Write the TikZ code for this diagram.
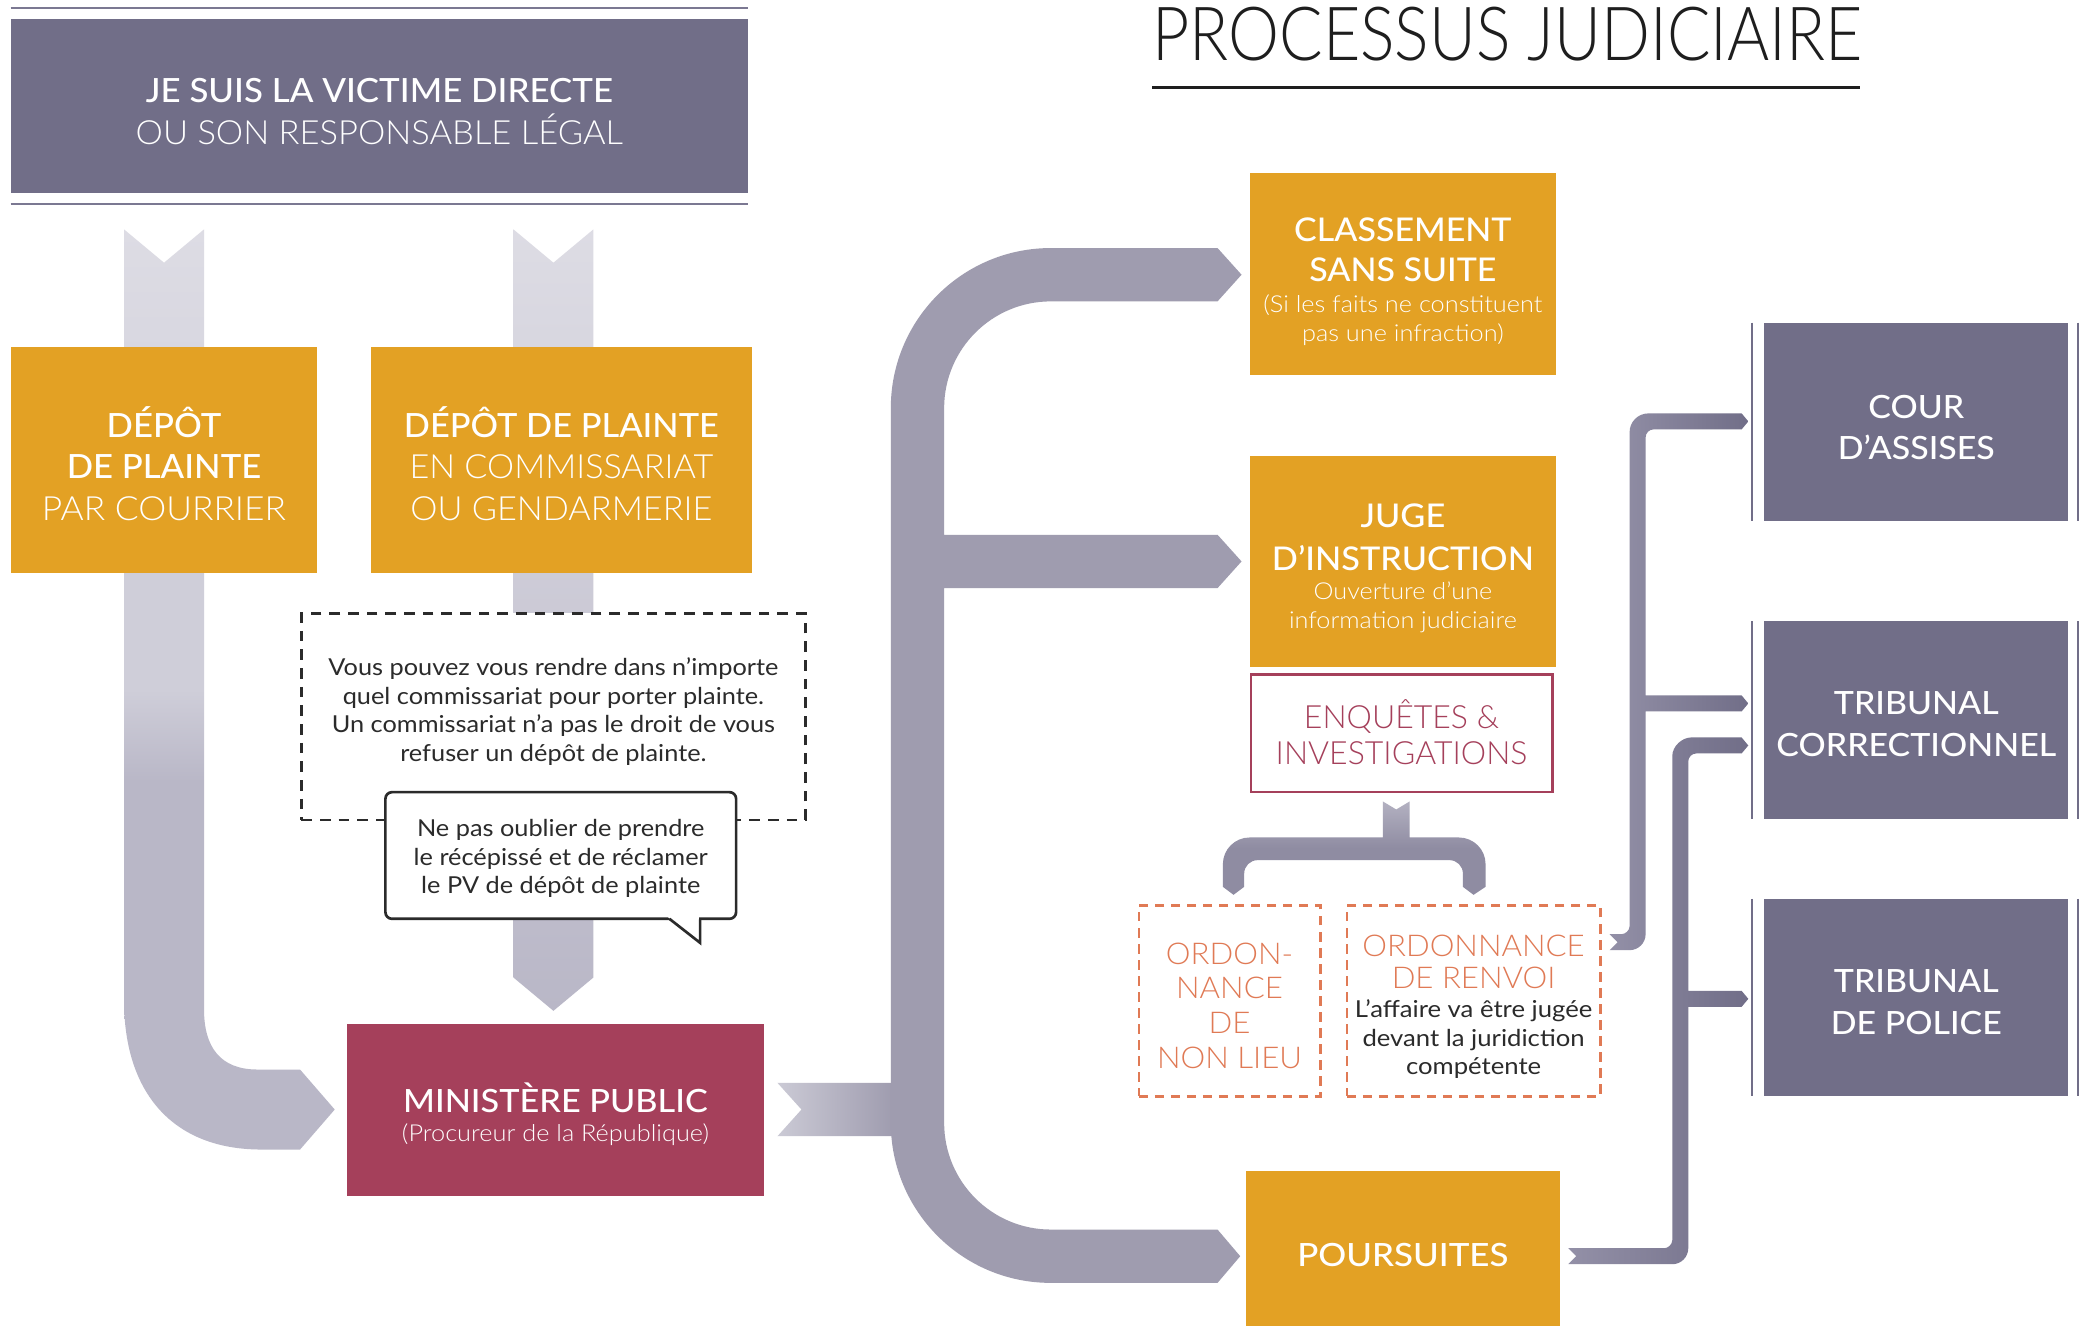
\documentclass[tikz,border=0pt]{standalone}
\usepackage{fontspec}
\usepackage{graphicx}
\IfFontExistsTF{Lato}{\def\basefam{Lato}}{\def\basefam{Liberation Sans}}
\expandafter\setmainfont\expandafter{\basefam}
\expandafter\newfontfamily\expandafter\fReg\expandafter{\basefam}
\IfFontExistsTF{Lato Light}{\newfontfamily\fLight{Lato Light}}{\expandafter\newfontfamily\expandafter\fLight\expandafter{\basefam}}
\IfFontExistsTF{Lato Medium}{\newfontfamily\fMed{Lato Medium}}{\expandafter\newfontfamily\expandafter\fMed\expandafter{\basefam}}
\newcommand\hs[2]{\scalebox{#1}[1]{#2}}
\definecolor{purp}{HTML}{716E88}
\definecolor{purpline}{HTML}{7B7892}
\definecolor{orng}{HTML}{E3A124}
\definecolor{crim}{HTML}{A5405B}
\definecolor{coral}{HTML}{E07A55}
\definecolor{arrowg}{HTML}{9F9CAF}
\definecolor{entryl}{HTML}{CBCAD5}
\definecolor{lgA}{HTML}{DDDCE4}
\definecolor{lgB}{HTML}{CFCED9}
\definecolor{lgC}{HTML}{B9B7C7}
\definecolor{conL}{HTML}{9390A7}
\definecolor{conR}{HTML}{716E88}
\definecolor{brk}{HTML}{8F8CA2}
\definecolor{brklight}{HTML}{B3B1C1}
\definecolor{darktxt}{HTML}{2B2B2B}
\definecolor{titlec}{HTML}{1E1E1E}
\pgfdeclareverticalshading{leftstream}{100bp}{color(0bp)=(lgC); color(45bp)=(lgC); color(50bp)=(lgB); color(56bp)=(lgB); color(75bp)=(lgA); color(100bp)=(lgA)}
\begin{document}
\begin{tikzpicture}[x=1pt,y=-1pt,
  box/.style={rectangle, inner sep=0pt, outer sep=0pt, draw=none},
  txt/.style={anchor=base, inner sep=0pt, outer sep=0pt},
  hd/.style={txt, text=white, font=\fMed\fontsize{25}{30}\selectfont},
  hl/.style={txt, text=white, font=\fLight\fontsize{25}{30}\selectfont},
  rh/.style={txt, text=white, font=\fMed\fontsize{24.5}{30}\selectfont},
  sm/.style={txt, text=white, font=\fLight\fontsize{17.5}{20}\selectfont},
  body/.style={txt, text=darktxt, font=\fReg\fontsize{17.5}{20}\selectfont},
  trib/.style={txt, text=white, font=\fMed\fontsize{24}{28}\selectfont},
  ordo/.style={txt, text=coral, font=\fLight\fontsize{22.5}{28}\selectfont},
  enq/.style={txt, text=crim, font=\fLight\fontsize{24}{28}\selectfont},
  dashbox/.style={draw=coral, line width=2pt, dash pattern=on 7pt off 5pt, fill=white},
  tline/.style={purp, line width=1.5pt}
]
\useasboundingbox (0,0) rectangle (1568,994);
\fill[white] (0,0) rectangle (1568,994);

% ---------- top header ----------
\draw[purpline, line width=1.8pt] (8,6) -- (561,6);
\draw[purpline, line width=1.8pt] (8,153) -- (561,153);
\node[box, fill=purp, minimum width=553pt, minimum height=131pt] (victime) at (284.5,79.5) {};
\node[hd] (hdr1) at (284.5,77) {\hs{1.045}{JE SUIS LA VICTIME DIRECTE}};
\node[hl] (hdr2) at (284.5,108.5) {\hs{1.035}{OU SON RESPONSABLE LÉGAL}};

% ---------- grey streams ----------
\shade[shading=leftstream] (93,172) -- (123,197) -- (153,172) -- (153,757)
  .. controls (153,785) and (165,802) .. (193,802) -- (225,802) -- (251,832) -- (225,862) -- (196,862)
  .. controls (130,862) and (93,820) .. (93,750) -- cycle;
\shade[top color=lgA, bottom color=lgC] (385,172) -- (415,197) -- (445,172) -- (445,733) -- (415,758) -- (385,733) -- cycle;

% ---------- orange deposit boxes ----------
\node[box, fill=orng, minimum width=230pt, minimum height=170pt] (courrier) at (123,345) {};
\node[hd] (d1a) at (123,328) {\hs{1.04}{DÉPÔT}};
\node[hd] (d1b) at (123,359) {\hs{1.04}{DE PLAINTE}};
\node[hl] (d1c) at (123,390) {\hs{1.06}{PAR COURRIER}};
\node[box, fill=orng, minimum width=286pt, minimum height=170pt] (commiss) at (421,345) {};
\node[hd] (d2a) at (421,328) {\hs{1.03}{DÉPÔT DE PLAINTE}};
\node[hl] (d2b) at (421,359) {\hs{1.025}{EN COMMISSARIAT}};
\node[hl] (d2c) at (421,390) {\hs{1.03}{OU GENDARMERIE}};

% ---------- dashed note ----------
\node[box, draw=darktxt, line width=1.9pt, dash pattern=on 8pt off 6pt, fill=white, minimum width=378pt, minimum height=155pt] (note) at (415,537.5) {};
\node[body] (n1) at (415,506.7) {\hs{1.085}{Vous pouvez vous rendre dans n’importe}};
\node[body] (n2) at (415,528) {\hs{1.085}{quel commissariat pour porter plainte.}};
\node[body] (n3) at (415,549.4) {\hs{1.085}{Un commissariat n’a pas le droit de vous}};
\node[body] (n4) at (415,571) {\hs{1.085}{refuser un dépôt de plainte.}};

% ---------- callout ----------
\draw[darktxt, line width=2pt, rounded corners=5pt, fill=white] (289,594) rectangle (552,689);
\fill[white] (501,687.8) -- (524,687.8) -- (524,705) -- cycle;
\draw[darktxt, line width=2pt, line join=miter] (502,689) -- (525,707) -- (525,689.5);
\node[body] (c1) at (420.5,627.4) {\hs{1.085}{Ne pas oublier de prendre}};
\node[body] (c2) at (420.5,648.7) {\hs{1.085}{le récépissé et de réclamer}};
\node[body] (c3) at (420.5,670) {\hs{1.085}{le PV de dépôt de plainte}};

% ---------- ministere public ----------
\node[box, fill=crim, minimum width=313pt, minimum height=129pt] (ministere) at (416.5,832.5) {};
\node[txt, text=white, font=\fMed\fontsize{24}{28}\selectfont] (m1) at (416.5,834) {\hs{1.07}{MINISTÈRE PUBLIC}};
\node[sm] (m2) at (416.5,856) {\hs{1.085}{(Procureur de la République)}};

% ---------- big branching arrow ----------
\shade[left color=entryl, right color=arrowg] (583,812) -- (670,812) -- (670,852) -- (583,852) -- (601,832) -- cycle;
\fill[arrowg] (668,306) .. controls (668,239.7) and (721.7,186) .. (788,186) -- (913,186) -- (931,206) -- (913,226) -- (788,226)
  .. controls (743.8,226) and (708,261.8) .. (708,306) -- (708,401) -- (913,401) -- (931,421) -- (913,441) -- (708,441)
  -- (708,842) .. controls (708,886.2) and (743.8,922) .. (788,922) -- (913,922) -- (930,942) -- (913,962) -- (788,962)
  .. controls (721.7,962) and (668,908.3) .. (668,842) -- cycle;

% ---------- title ----------
\node[txt, text=titlec, font=\fLight\fontsize{56}{60}\selectfont] (title) at (1130.5,45) {\hs{0.862}{PROCESSUS JUDICIAIRE}};
\draw[titlec, line width=2pt] (864,65.5) -- (1395,65.5);

% ---------- right column ----------
\node[box, fill=orng, minimum width=230pt, minimum height=151pt] (classement) at (1052,205.5) {};
\node[rh] (cl1) at (1052,181) {\hs{1.04}{CLASSEMENT}};
\node[rh] (cl2) at (1052,211) {\hs{1.04}{SANS SUITE}};
\node[sm] (cl3) at (1052,234) {\hs{1.085}{(Si les faits ne constituent}};
\node[sm] (cl4) at (1052,256) {\hs{1.085}{pas une infraction)}};

\node[box, fill=orng, minimum width=230pt, minimum height=158pt] (juge) at (1052,421) {};
\node[rh] (j1) at (1052,395.5) {\hs{1.05}{JUGE}};
\node[rh] (j2) at (1052,427.5) {\hs{1.05}{D’INSTRUCTION}};
\node[sm] (j3) at (1052,449.5) {\hs{1.08}{Ouverture d’une}};
\node[sm] (j4) at (1052,471.5) {\hs{1.08}{information judiciaire}};

\node[box, draw=crim, line width=2pt, fill=white, minimum width=226pt, minimum height=88pt] (enquetes) at (1051,550) {};
\node[enq] (e1) at (1051,546.5) {ENQUÊTES \&};
\node[enq] (e2) at (1051,573.5) {INVESTIGATIONS};

% bracket under enquetes
\shade[top color=brklight, bottom color=brk, middle color=brk] (1037,601) -- (1047,607) -- (1057,601) -- (1057,628) -- (1094,628)
  .. controls (1105,628) and (1114,637) .. (1114,648) -- (1114,665) -- (1105,671) -- (1097,665) -- (1097,655)
  .. controls (1097,649.5) and (1092.5,645) .. (1087,645) -- (943,645)
  .. controls (937.5,645) and (933,649.5) .. (933,655) -- (933,665) -- (925,671) -- (917,665) -- (917,648)
  .. controls (917,637) and (926,628) .. (937,628) -- (1037,628) -- cycle;

\node[box, dashbox, minimum width=136pt, minimum height=143pt] (nonlieu) at (922,750.5) {};
\node[ordo] (o1) at (922,723) {\hs{1.04}{ORDON-}};
\node[ordo] (o2) at (922,748.7) {\hs{1.04}{NANCE}};
\node[ordo] (o3) at (922,775) {\hs{1.04}{DE}};
\node[ordo] (o4) at (922,801) {\hs{1.04}{NON LIEU}};

\node[box, dashbox, minimum width=190pt, minimum height=143pt] (renvoi) at (1105,750.5) {};
\node[ordo] (r1) at (1105,717.5) {\hs{1.04}{ORDONNANCE}};
\node[ordo] (r2) at (1105,741) {\hs{1.04}{DE RENVOI}};
\node[body] (r3) at (1105,763) {\hs{1.1}{L’affaire va être jugée}};
\node[body] (r4) at (1105,785) {\hs{1.1}{devant la juridiction}};
\node[body] (r5) at (1105,806) {\hs{1.1}{compétente}};

\node[box, fill=orng, minimum width=236pt, minimum height=124pt] (poursuites) at (1052,940) {};
\node[trib] (p1) at (1052,950) {\hs{1.09}{POURSUITES}};

% ---------- courts ----------
\node[box, fill=purp, minimum width=228pt, minimum height=149pt] (assises) at (1437,316.5) {};
\draw[tline] (1314,242) -- (1314,391);
\draw[tline] (1558,242) -- (1558,391);
\node[trib] (a1) at (1437,313.7) {\hs{1.06}{COUR}};
\node[trib] (a2) at (1437,344.5) {\hs{1.06}{D’ASSISES}};

\node[box, fill=purp, minimum width=228pt, minimum height=148pt] (correc) at (1437,540) {};
\draw[tline] (1314,466) -- (1314,614);
\draw[tline] (1558,466) -- (1558,614);
\node[trib] (tc1) at (1437,536) {\hs{1.06}{TRIBUNAL}};
\node[trib] (tc2) at (1437,567.5) {\hs{1.06}{CORRECTIONNEL}};

\node[box, fill=purp, minimum width=228pt, minimum height=148pt] (police) at (1437,748) {};
\draw[tline] (1314,674) -- (1314,822);
\draw[tline] (1558,674) -- (1558,822);
\node[trib] (tp1) at (1437,744) {\hs{1.06}{TRIBUNAL}};
\node[trib] (tp2) at (1437,775.5) {\hs{1.06}{DE POLICE}};

% ---------- thin connectors ----------
\shade[left color=conL, right color=conR] (1207,700.5) -- (1213,706.5) -- (1207,712.5) -- (1222,712.5)
  .. controls (1228.6,712.5) and (1234,707.1) .. (1234,700.5) -- (1234,533.5) -- (1306,533.5) -- (1311,527.5) -- (1306,521.5)
  -- (1234,521.5) -- (1234,328) .. controls (1234,324.7) and (1236.7,322) .. (1240,322) -- (1306,322) -- (1311,316) -- (1306,310)
  -- (1236,310) .. controls (1228.3,310) and (1222,316.3) .. (1222,324) -- (1222,694.5)
  .. controls (1222,697.8) and (1218.7,700.5) .. (1216,700.5) -- cycle;
\shade[left color=conL, right color=conR] (1176,936) -- (1182,942) -- (1176,948) -- (1254,948)
  .. controls (1260.6,948) and (1266,942.6) .. (1266,936) -- (1266,755) -- (1306,755) -- (1311,749) -- (1306,743)
  -- (1266,743) -- (1266,571) .. controls (1266,567.7) and (1268.7,565) .. (1272,565) -- (1306,565) -- (1311,559) -- (1306,553)
  -- (1268,553) .. controls (1261.7,553) and (1254,559.3) .. (1254,567) -- (1254,930)
  .. controls (1254,933.3) and (1250.7,936) .. (1248,936) -- cycle;
\end{tikzpicture}
\end{document}
